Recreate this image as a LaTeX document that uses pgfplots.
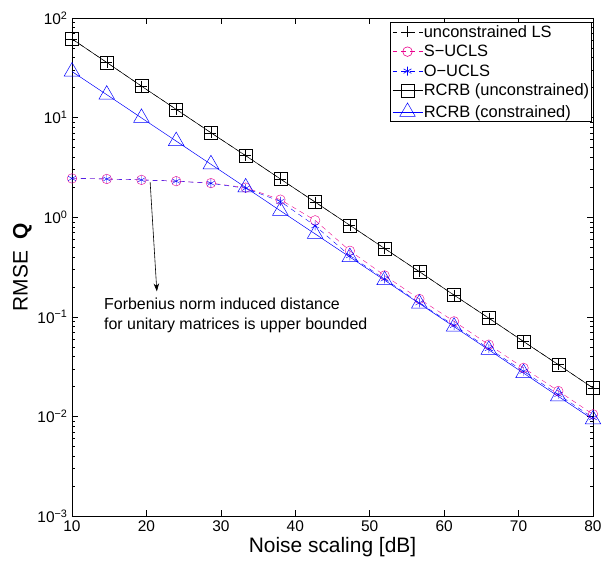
\documentclass[border=0pt]{standalone}
\usepackage{pgfplots}
\usepackage{pgfplotstable}
\pgfplotsset{compat=1.18}
\usetikzlibrary{arrows.meta}
\usepackage{fontspec}
\setmainfont{Liberation Sans}

\pgfplotstableread{
snr     ls      sucls   oucls   crbu    crbc
10      61.6    2.45    2.45    61.6    29.0
14.667  35.8    2.42    2.42    35.8    17.0
19.333  20.7    2.37    2.37    20.7    9.94
24      12.1    2.30    2.30    12.1    5.81
28.667  7.05    2.20    2.19    7.05    3.40
33.333  4.15    1.98    1.95    4.15    1.99
38      2.42    1.50    1.44    2.42    1.16
42.667  1.42    0.93    0.82    1.42    0.680
47.333  0.83    0.46    0.41    0.83    0.398
52      0.485   0.26    0.24    0.485   0.233
56.667  0.284   0.151   0.138   0.284   0.136
61.333  0.165   0.090   0.082   0.165   0.0796
66      0.097   0.0525  0.048   0.097   0.0466
70.667  0.0565  0.0307  0.0284  0.0565  0.0272
75.333  0.0331  0.0180  0.0166  0.0331  0.0159
80      0.0193  0.0105  0.0097  0.0193  0.00932
}\rmse

\begin{document}
\begin{tikzpicture}
\begin{axis}[
    name=ax,
    scale only axis,
    width=521bp, height=498bp,
    ymode=log,
    xmin=10, xmax=80, ymin=1e-3, ymax=1e2,
    xtick={10,20,...,80},
    ytick={1e-3,1e-2,1e-1,1,1e1,1e2},
    yticklabels={10\textsuperscript{−3},10\textsuperscript{−2},10\textsuperscript{−1},10\textsuperscript{0},10\textsuperscript{1},10\textsuperscript{2}},
    xticklabel style={font=\fontsize{15.5}{16}\selectfont, yshift=-1bp},
    yticklabel style={font=\fontsize{15.5}{16}\selectfont, xshift=-1bp},
    /pgf/number format/assume math mode=true,
    tick align=inside,
    major tick length=6bp, minor tick length=3.5bp,
    axis line style={line width=0.9pt},
    every tick/.style={black, line width=0.5pt},
    xlabel={Noise scaling [dB]},
    ylabel={RMSE\hspace{0.55em}\textbf{Q}},
    label style={font=\fontsize{21}{22}\selectfont},
    xlabel style={yshift=1bp},
    ylabel style={yshift=-1bp},
    legend cell align=left,
    legend image code/.code={
        \draw[mark repeat=2, mark phase=2] plot coordinates {(0bp,0bp) (15bp,0bp) (30bp,0bp)};
    },
    legend style={at={(0.998,0.992)}, anchor=north east, font=\fontsize{16.5}{17.5}\selectfont,
        draw=black, line width=0.6pt, inner xsep=1.5pt, inner ysep=2pt, row sep=4.5pt,
        nodes={inner sep=1pt}},
]
\addplot[black, dashed, dash pattern=on 5pt off 4pt, mark=+, mark size=5.5bp, mark options={solid}] table[x=snr, y=ls] {\rmse};
\addlegendentry{unconstrained LS}
\addplot[magenta, dashed, dash pattern=on 5pt off 4pt, mark=o, mark size=4.8bp, mark options={solid}] table[x=snr, y=sucls] {\rmse};
\addlegendentry{S−UCLS}
\addplot[blue, dashed, dash pattern=on 5pt off 4pt, mark=asterisk, mark size=4.5bp, mark options={solid}] table[x=snr, y=oucls] {\rmse};
\addlegendentry{O−UCLS}
\addplot[black, line width=0.5pt, mark=square, mark size=6.5bp] table[x=snr, y=crbu] {\rmse};
\addlegendentry{RCRB (unconstrained)}
\addplot[blue, line width=0.5pt, mark=triangle, mark size=9bp] table[x=snr, y=crbc] {\rmse};
\addlegendentry{RCRB (constrained)}
\draw[-{Stealth[length=8bp, width=5.5bp]}, line width=0.6pt] (axis cs:20.5,2.25) -- (axis cs:21.4,0.18);
\node[anchor=north west, align=left, font=\fontsize{16}{20}\selectfont, inner sep=0pt]
    at (axis cs:14.3,0.155) {Forbenius norm induced distance\\for unitary matrices is upper bounded};
\end{axis}
\pgfresetboundingbox
\path ([shift={(-72bp,-45bp)}]ax.south west) rectangle ([shift={(10bp,18bp)}]ax.north east);
\end{tikzpicture}
\end{document}
